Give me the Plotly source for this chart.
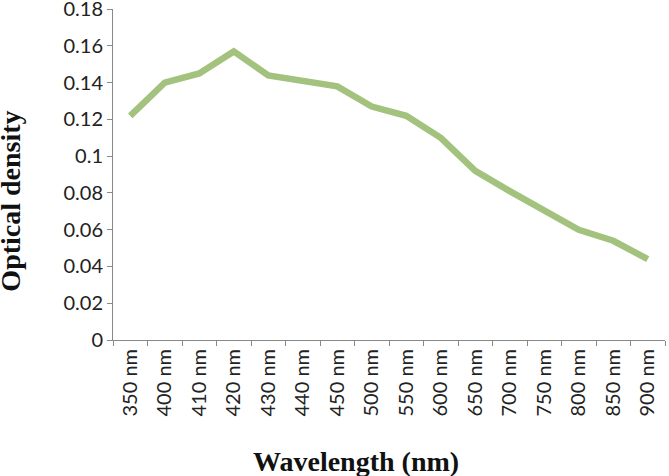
import plotly.graph_objects as go

categories = ["350 nm", "400 nm", "410 nm", "420 nm", "430 nm", "440 nm", "450 nm", "500 nm",
              "550 nm", "600 nm", "650 nm", "700 nm", "750 nm", "800 nm", "850 nm", "900 nm"]
optical_density = [0.122, 0.140, 0.145, 0.157, 0.144, 0.141, 0.138, 0.127,
                   0.122, 0.110, 0.092, 0.081, 0.071, 0.060, 0.054, 0.044]
y_ticks = [0, 0.02, 0.04, 0.06, 0.08, 0.1, 0.12, 0.14, 0.16, 0.18]
y_tick_labels = ["0", "0.02", "0.04", "0.06", "0.08", "0.1", "0.12", "0.14", "0.16", "0.18"]
x_title = "Wavelength (nm)"
y_title = "Optical density"

fig = go.Figure()
fig.add_trace(go.Scatter(
    x=categories, y=optical_density, mode="lines",
    line=dict(color="#a3c27e", width=6.5),
))

title_font = dict(family="Liberation Serif", size=28, color="#111111")
fig.update_layout(
    width=669, height=476,
    margin=dict(l=113, r=4, t=9, b=136),
    paper_bgcolor="white", plot_bgcolor="white",
    showlegend=False,
    font=dict(family="Lato, Open Sans, sans-serif", color="#222222", size=20),
    annotations=[
        dict(text="<b>" + x_title + "</b>", xref="paper", yref="paper",
             x=0.44, y=-0.366, xanchor="center", yanchor="middle",
             showarrow=False, font=title_font),
        dict(text="<b>" + y_title + "</b>", xref="paper", yref="paper",
             x=-0.186, y=0.419, xanchor="center", yanchor="middle",
             textangle=-90, showarrow=False, font=title_font),
    ],
)
fig.update_xaxes(
    type="category", tickangle=-90, tickson="boundaries",
    range=[-0.5, len(categories) - 0.5],
    ticks="outside", ticklen=5, tickcolor="#898989",
    showline=True, linecolor="#898989", linewidth=1,
    showgrid=False, zeroline=False,
    tickfont=dict(size=20), automargin=False,
)
fig.update_yaxes(
    range=[0, 0.1801], tickvals=y_ticks, ticktext=y_tick_labels,
    ticks="outside", ticklen=5, tickcolor="#898989",
    showline=True, linecolor="#898989", linewidth=1,
    showgrid=False, zeroline=False, ticklabeloverflow="allow",
    tickfont=dict(size=20), automargin=False,
)

fig.write_html("out.html", config={"displayModeBar": False},
               post_script="document.body.style.margin='0';")
